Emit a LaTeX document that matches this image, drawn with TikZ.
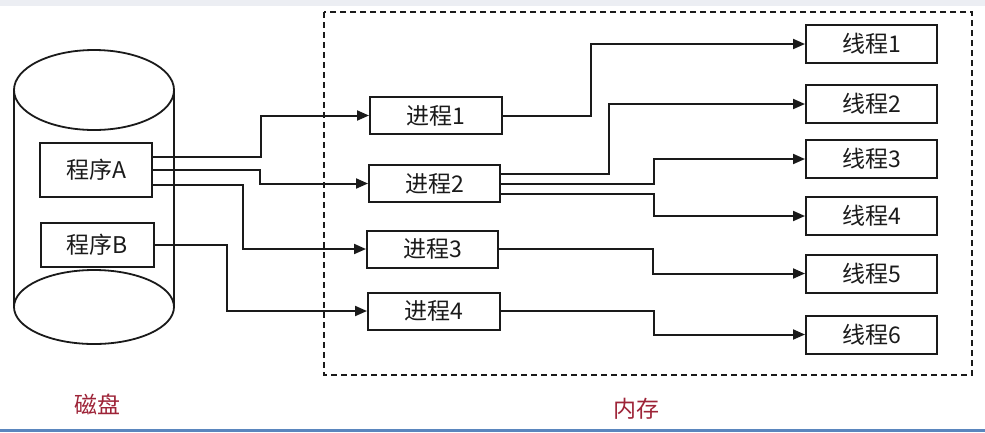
\documentclass[tikz,border=0pt]{standalone}
\usepackage{fontspec}
\newfontfamily\cjk{Noto Sans CJK SC}
\usetikzlibrary{arrows.meta}
\definecolor{labelred}{HTML}{9E2438}
\definecolor{ink}{HTML}{1A1A1A}
\definecolor{topband}{HTML}{ECEEF3}
\definecolor{bottomline}{HTML}{5A86BE}
\tikzset{
  box/.style={draw=ink, line width=2pt, fill=white, inner sep=0pt,
    font=\cjk\fontsize{23}{23}\selectfont, text=ink},
  arr/.style={draw=ink, line width=2pt, -{Triangle[length=12pt,width=10pt]}},
  cyl/.style={draw=ink, line width=1.8pt},
  mem/.style={draw=ink, line width=1.7pt, dash pattern=on 6pt off 4pt},
  caption/.style={font=\cjk\fontsize{23}{23}\selectfont, text=labelred}
}
\begin{document}
\begin{tikzpicture}[x=1pt,y=-1pt]
\useasboundingbox (0,0) rectangle (985,432);
\fill[white] (0,0) rectangle (985,432);
\fill[topband] (0,0) rectangle (985,6);
\fill[bottomline] (0,429) rectangle (985,432);

% disk cylinder
\draw[cyl] (14,90) -- (14,307);
\draw[cyl] (174,90) -- (174,307);
\draw[cyl, fill=white] (94,90) ellipse [x radius=80, y radius=40];
\draw[cyl, fill=white] (94,307) ellipse [x radius=80, y radius=37];

% memory frame
\draw[mem] (324,12) rectangle (972,375);

% program nodes
\node[box, minimum width=112pt, minimum height=54pt] (A) at (96,170) {程序A};
\node[box, minimum width=113pt, minimum height=44pt] (B) at (97.5,245) {程序B};

% process nodes
\node[box, minimum width=132pt, minimum height=37pt] (P1) at (436,115.5) {进程1};
\node[box, minimum width=131pt, minimum height=37pt] (P2) at (434.5,183.5) {进程2};
\node[box, minimum width=131pt, minimum height=37pt] (P3) at (432.5,249) {进程3};
\node[box, minimum width=132pt, minimum height=37pt] (P4) at (434,311) {进程4};

% thread nodes
\node[box, minimum width=131pt, minimum height=38pt] (T1) at (871.5,44) {线程1};
\node[box, minimum width=131pt, minimum height=38pt] (T2) at (871.5,104) {线程2};
\node[box, minimum width=131pt, minimum height=38pt] (T3) at (871.5,159) {线程3};
\node[box, minimum width=131pt, minimum height=38pt] (T4) at (871.5,216) {线程4};
\node[box, minimum width=131pt, minimum height=38pt] (T5) at (871.5,273.5) {线程5};
\node[box, minimum width=131pt, minimum height=38pt] (T6) at (871.5,334.5) {线程6};

% program -> process
\draw[arr] ([yshift=13pt]A.east) -- ++(108,0) |- (P1.west);
\draw[arr] (A.east) -- ++(107,0) |- (P2.west);
\draw[arr] ([yshift=-15pt]A.east) -- ++(90,0) |- (P3.west);
\draw[arr] (B.east) -- ++(72,0) |- (P4.west);

% process -> thread
\draw[arr] (P1.east) -- ++(88,0) |- (T1.west);
\draw[arr] ([yshift=10pt]P2.east) -- ++(108,0) |- (T2.west);
\draw[arr] (P2.east) -- ++(153,0) |- (T3.west);
\draw[arr] ([yshift=-10pt]P2.east) -- ++(153,0) |- (T4.west);
\draw[arr] (P3.east) -- ++(154,0) |- (T5.west);
\draw[arr] (P4.east) -- ++(153,0) |- (T6.west);

% captions
\node[caption] (disk) at (97,404) {磁盘};
\node[caption] (memory) at (636,409) {内存};
\end{tikzpicture}
\end{document}
